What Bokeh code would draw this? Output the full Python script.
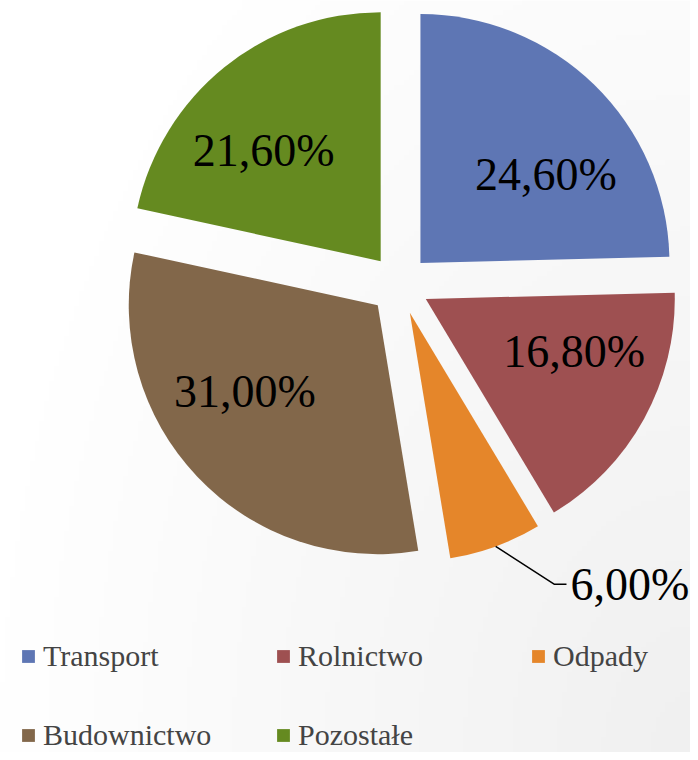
import numpy as np
from bokeh.plotting import figure
from bokeh.models import ColumnDataSource, Range1d, Legend, LegendItem
from bokeh.core.properties import value
from bokeh.embed import file_html
from bokeh.resources import INLINE

# ---- data ----
categories = ["Transport", "Rolnictwo", "Odpady", "Budownictwo", "Pozostałe"]
shares = [24.6, 16.8, 6.0, 31.0, 21.6]
share_labels = ["24,60%", "16,80%", "6,00%", "31,00%", "21,60%"]
colors = ["#5E76B4", "#9E5051", "#E5862A", "#82674A", "#658A20"]

# ---- layout (pixels) ----
W, H = 690, 752
CX, CY = 399, 468
R = 249
EXPLODE = 30
label_shift_deg = [-8.8, 7.9, 0.0, -8.9, 6.5]
label_dist = [183, 187, 0, 188, 191]
inside = [True, True, False, True, True]
FONT = "Liberation Serif"

vals = np.array(shares, dtype=float)
cum_end = np.cumsum(vals)
cum_start = cum_end - vals
start = 90 - 3.6 * cum_end
end = 90 - 3.6 * cum_start
mid = (start + end) / 2
mid_r = np.radians(mid)
vx = CX + EXPLODE * np.cos(mid_r)
vy = CY + EXPLODE * np.sin(mid_r)

src = ColumnDataSource(dict(x=vx, y=vy, start=start, end=end, color=colors, name=categories))

p = figure(width=W, height=H, x_range=Range1d(0, W), y_range=Range1d(0, H),
           output_backend="svg", toolbar_location=None, min_border=0)
p.axis.visible = False
p.grid.visible = False
p.outline_line_color = None
p.background_fill_color = "white"
p.border_fill_color = "white"

# subtle background gradient (darker towards bottom-right)
nx, ny = 140, 150
gx = np.linspace(0, W, nx)
gy = np.linspace(0, H, ny)
X, Y = np.meshgrid(gx, gy)
sx = X
sy = H - Y
dist = np.sqrt((698 - sx) ** 2 + (0.7 * (760 - sy)) ** 2) / 700
g = 240 + 15 * np.clip(dist, 0, 1)
img = np.empty((ny, nx), dtype=np.uint32)
view = img.view(dtype=np.uint8).reshape((ny, nx, 4))
gi = g.astype(np.uint8)
view[:, :, 0] = gi
view[:, :, 1] = gi
view[:, :, 2] = gi
view[:, :, 3] = 255
p.image_rgba(image=[img], x=0, y=0, dw=W, dh=H)

wr = p.wedge(x="x", y="y", radius=R, start_angle="start", end_angle="end",
             start_angle_units="deg", end_angle_units="deg", direction="anticlock",
             fill_color="color", line_color=None, source=src)

# inside labels
lx, ly, lt = [], [], []
for i in range(len(vals)):
    if inside[i]:
        a = np.radians(mid[i] + label_shift_deg[i])
        lx.append(CX + label_dist[i] * np.cos(a))
        ly.append(CY + label_dist[i] * np.sin(a))
        lt.append(share_labels[i])
p.text(x=lx, y=ly, text=lt, text_font=value(FONT), text_font_size="46px",
       text_align="center", text_baseline="middle", text_color="black")

# outside label with leader line
for i in range(len(vals)):
    if not inside[i]:
        sx0 = vx[i] + R * np.cos(mid_r[i])
        sy0 = vy[i] + R * np.sin(mid_r[i])
        ang = np.radians(-32.8)
        ex = sx0 + 70 * np.cos(ang)
        ey = sy0 + 70 * np.sin(ang)
        p.line(x=[sx0, ex, ex + 12], y=[sy0, ey, ey], line_color="black", line_width=1.5)
        p.text(x=[ex + 16], y=[ey], text=[share_labels[i]], text_font=value(FONT),
               text_font_size="46px", text_align="left", text_baseline="alphabetic",
               text_color="black")

items = [LegendItem(label=categories[i], renderers=[wr], index=i) for i in range(len(vals))]
legend = Legend(items=items, location=(20, 0), orientation="horizontal", ncols=3,
                glyph_width=16, glyph_height=16, label_standoff=7,
                label_text_font=FONT, label_text_font_size="30px", label_height=34,
                label_width=187, spacing=45, padding=0, margin=0,
                border_line_color=None, background_fill_alpha=0)
p.add_layout(legend, "center")

open("out.html", "w").write(file_html(p, INLINE))
